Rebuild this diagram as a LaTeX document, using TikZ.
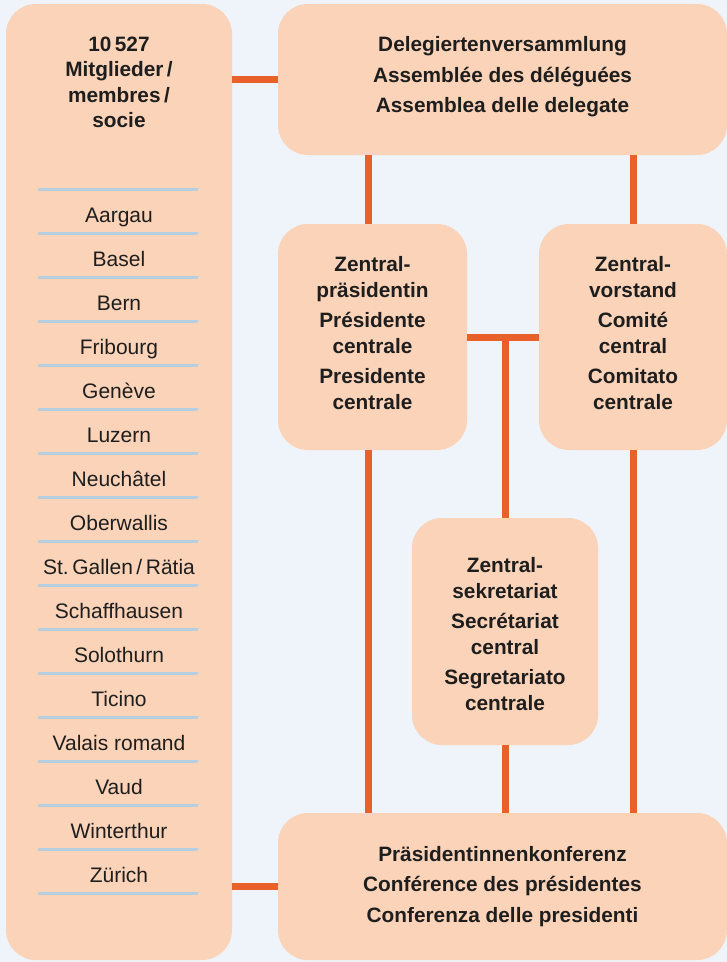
\documentclass[tikz,border=0pt]{standalone}
\usepackage{fontspec}
\setmainfont{Liberation Sans}
\definecolor{bg}{HTML}{EEF4F9}
\definecolor{boxc}{HTML}{FAD3B8}
\definecolor{org}{HTML}{E8602A}
\definecolor{ln}{HTML}{B5CFE0}
\definecolor{txt}{HTML}{1E1E1E}
\begin{document}
\begin{tikzpicture}[x=1pt,y=-1pt,
  boxst/.style={fill=boxc, rounded corners=30pt, inner sep=0pt},
  headtxt/.style={inner sep=0pt, text=txt,
    font=\fontsize{20.8}{25.5}\selectfont\bfseries, align=center},
  conn/.style={draw=org, line width=7pt},
  sepline/.style={draw=ln, line width=3pt},
  item/.style={font=\fontsize{21}{22}\selectfont, text=txt, inner sep=0pt, anchor=base}]
\fill[bg] (0,0) rectangle (727,962);
\useasboundingbox (0,0) rectangle (727,962);

% boxes
\node[boxst, minimum width=226pt, minimum height=956pt] (mem) at (119,482) {};
\node[boxst, minimum width=449pt, minimum height=151pt] (dv) at (502.5,79.5) {};
\node[boxst, minimum width=189pt, minimum height=226pt] (zp) at (372.5,337) {};
\node[boxst, minimum width=188pt, minimum height=226pt] (zv) at (633,337) {};
\node[boxst, minimum width=186pt, minimum height=227pt] (zs) at (505,631.5) {};
\node[boxst, minimum width=449pt, minimum height=147pt] (pk) at (502.5,886.5) {};

% box texts
\node[headtxt] (dvt) at ([yshift=2.5pt]dv.center)
  {Delegiertenversammlung\\[5pt]Assemblée des déléguées\\[5pt]Assemblea delle delegate};
\node[headtxt] (zpt) at ([yshift=4pt]zp.center)
  {Zentral-\\präsidentin\\[5pt]Présidente\\centrale\\[5pt]Presidente\\centrale};
\node[headtxt] (zvt) at ([yshift=4pt]zv.center)
  {Zentral-\\vorstand\\[5pt]Comité\\central\\[5pt]Comitato\\centrale};
\node[headtxt] (zst) at ([yshift=-2.5pt]zs.center)
  {Zentral-\\sekretariat\\[5pt]Secrétariat\\central\\[5pt]Segretariato\\centrale};
\node[headtxt] (pkt) at (pk.center)
  {Präsidentinnenkonferenz\\[5pt]Conférence des présidentes\\[5pt]Conferenza delle presidenti};

% member box title
\node[headtxt, anchor=north] (memtitle) at (119,36.5)
  {10\,527\\Mitglieder\,/\\membres\,/\\socie};

% list
\foreach \k in {0,...,16} \draw[sepline] (38,189+44*\k) -- (198,189+44*\k);
\foreach \t [count=\i] in {Aargau,Basel,Bern,Fribourg,Genève,Luzern,Neuchâtel,Oberwallis,
  St.\,Gallen\,/\,Rätia,Schaffhausen,Solothurn,Ticino,Valais romand,Vaud,Winterthur,Zürich}
  \node[item] (it\i) at (119,178+44*\i) {\t};

% connectors
\draw[conn] (mem.east |- dv.west) -- (dv.west);
\draw[conn] ([xshift=-4.5pt]zp.north) -- ([xshift=-4.5pt]zp.north |- dv.south);
\draw[conn] (zv.north) -- (zv.north |- dv.south);
\draw[conn] (zp.east) -- (zv.west);
\coordinate (tj) at (zs.north |- zp.east);
\draw[conn] (tj) -- (zs.north);
\draw[conn] ([xshift=-4.5pt]zp.south) -- ([xshift=-4.5pt]zp.south |- pk.north);
\draw[conn] (zv.south) -- (zv.south |- pk.north);
\draw[conn] (zs.south) -- (zs.south |- pk.north);
\draw[conn] (pk.west) -- (pk.west -| mem.east);
\end{tikzpicture}
\end{document}
